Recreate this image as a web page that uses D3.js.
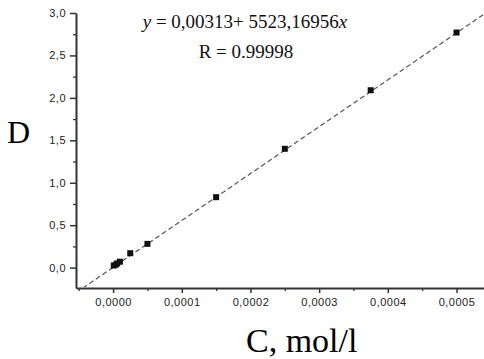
<!DOCTYPE html>
<html lang="en">
<head>
<meta charset="UTF-8">
<title>Calibration</title>
<style>
  body { margin: 0; background: #fff; }
  .tick text { font-family: Arial, "Liberation Sans", sans-serif; font-size: 11px; fill: #222; letter-spacing: 0.5px; }
</style>
<script src="https://cdn.jsdelivr.net/npm/d3@7"></script>
</head>
<body>
<script>
  // measured points
  const conc = [0.000001, 0.000004, 0.000006, 0.00001, 0.000025, 0.00005, 0.00015, 0.00025, 0.000375, 0.0005];
  const absorb = [0.025, 0.035, 0.05, 0.07, 0.17, 0.28, 0.83, 1.40, 2.09, 2.77];
  const xTicks = [0, 0.0001, 0.0002, 0.0003, 0.0004, 0.0005];
  const yTicks = [0, 0.5, 1.0, 1.5, 2.0, 2.5, 3.0];
  const fitA = 0.00313, fitB = 5523.16956;

  const width = 484, height = 359;
  const svg = d3.select("body").append("svg")
    .attr("width", width)
    .attr("height", height);

  const x = d3.scaleLinear().domain([-0.000054, 0.00054]).range([76, 484]);
  const y = d3.scaleLinear().domain([-0.24, 3.0]).range([288, 13]);

  const fmt = d => d3.format(".4f")(d).replace(".", ",");
  const fmtY = d => d3.format(".1f")(d).replace(".", ",");

  // minor ticks first
  svg.append("g")
    .attr("transform", "translate(0,288)")
    .call(d3.axisBottom(x).tickValues(d3.range(-0.00005, 0.00055, 0.0001)).tickSize(3).tickFormat(""))
    .call(g => g.select(".domain").remove())
    .selectAll("line").attr("stroke", "#333").attr("stroke-width", 1.3);

  svg.append("g")
    .attr("transform", "translate(76,0)")
    .call(d3.axisLeft(y).tickValues([0.25, 0.75, 1.25, 1.75, 2.25, 2.75]).tickSize(3).tickFormat(""))
    .call(g => g.select(".domain").remove())
    .selectAll("line").attr("stroke", "#333").attr("stroke-width", 1.3);

  const xAxis = svg.append("g")
    .attr("transform", "translate(0,288)")
    .call(d3.axisBottom(x).tickValues(xTicks).tickSize(5).tickPadding(5).tickFormat(fmt).tickSizeOuter(0));
  xAxis.select(".domain").attr("stroke", "#333").attr("stroke-width", 2);
  xAxis.selectAll(".tick line").attr("stroke", "#333").attr("stroke-width", 1.5);

  const yAxis = svg.append("g")
    .attr("transform", "translate(76,0)")
    .call(d3.axisLeft(y).tickValues(yTicks).tickSize(6).tickPadding(4).tickFormat(fmtY).tickSizeOuter(0));
  yAxis.select(".domain").attr("stroke", "#333").attr("stroke-width", 2);
  yAxis.selectAll(".tick line").attr("stroke", "#333").attr("stroke-width", 1.5);

  // fit line, clipped to plot area
  svg.append("clipPath").attr("id", "plot")
    .append("rect").attr("x", 77).attr("y", 0).attr("width", 410).attr("height", 287);

  const fitX = x.domain();
  svg.append("line")
    .attr("clip-path", "url(#plot)")
    .attr("x1", x(fitX[0])).attr("y1", y(fitA + fitB * fitX[0]))
    .attr("x2", x(fitX[1])).attr("y2", y(fitA + fitB * fitX[1]))
    .attr("stroke", "#555")
    .attr("stroke-width", 1.2)
    .attr("stroke-dasharray", "5,3");

  svg.selectAll(".pt")
    .data(conc)
    .join("rect")
    .attr("class", "pt")
    .attr("x", (d) => x(d) - 3)
    .attr("y", (d, i) => y(absorb[i]) - 3)
    .attr("width", 6)
    .attr("height", 6)
    .attr("fill", "#111");

  // equation text
  const eq = svg.append("text")
    .attr("x", 245).attr("y", 28)
    .attr("text-anchor", "middle")
    .style("font-family", "'Liberation Serif', 'Times New Roman', serif")
    .style("font-size", "19px")
    .attr("fill", "#111");
  eq.append("tspan").style("font-style", "italic").text("y");
  eq.append("tspan").text(" = 0,00313+ 5523,16956");
  eq.append("tspan").style("font-style", "italic").text("x");

  svg.append("text")
    .attr("x", 246).attr("y", 58)
    .attr("text-anchor", "middle")
    .style("font-family", "'Liberation Serif', 'Times New Roman', serif")
    .style("font-size", "19px")
    .attr("fill", "#111")
    .text("R = 0.99998");

  svg.append("text")
    .attr("x", 7).attr("y", 143)
    .style("font-family", "'Liberation Serif', 'Times New Roman', serif")
    .style("font-size", "32px")
    .attr("fill", "#000")
    .text("D");

  svg.append("text")
    .attr("x", 246).attr("y", 352)
    .style("font-family", "'Liberation Serif', 'Times New Roman', serif")
    .style("font-size", "34px")
    .attr("fill", "#000")
    .text("C, mol/l");
</script>
</body>
</html>
